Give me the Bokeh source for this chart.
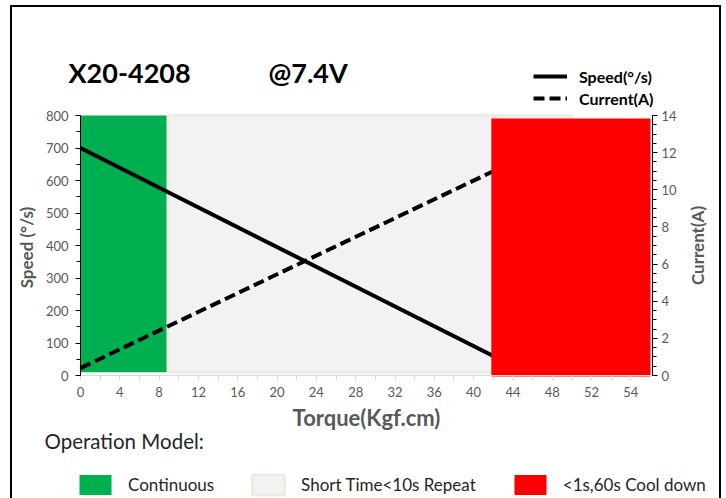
import math
from bokeh.plotting import figure
from bokeh.models import (Range1d, LinearAxis, FixedTicker, SingleIntervalTicker,
                          Label, Legend, LegendItem)
from bokeh.embed import file_html
from bokeh.resources import INLINE

# ---------------- data ----------------
title_model = "X20-4208"
title_voltage = "@7.4V"
section_title = "Operation Model:"
current_axis_title = "Current(A)"

torque = [0, 42]          # Kgf.cm
speed = [700, 60]         # deg/s
current = [0.4, 11.0]     # A

zone_names = ["Continuous", "Short Time<10s Repeat", "<1s,60s Cool down"]
zone_start = [0, 8.9, 41.8]
zone_end = [8.9, 50, 58]
zone_top = [800, 800, 791]
zone_bottom = [10, 10, -3]
zone_colors = ["#00B050", "#F2F2F2", "#FF0000"]

x_ticks = [0, 4, 8, 12, 16, 20, 24, 28, 32, 36, 40, 44, 48, 52, 56]
x_tick_labels = ["0", "4", "8", "12", "16", "20", "24", "28", "32", "36",
                 "40", "44", "48", "52", "54"]
x_minor_ticks = [2, 6, 10, 14, 18, 22, 26, 30, 34, 38, 42, 46, 50, 54]

X_MAX = 58.2
SPEED_MAX = 800
CURRENT_MAX = 14

# ---------------- layout (pixels) ----------------
W, H = 726, 498
PL, PR, PT, PB = 80, 652, 115, 375     # plot-area box inside the canvas
FONT = "Lato"
GRAY = "#595959"

kx = (PR - PL) / X_MAX
ks = (PB - PT) / SPEED_MAX
kc = (PB - PT) / CURRENT_MAX

p = figure(width=W, height=H, output_backend="svg", toolbar_location=None,
           x_range=Range1d(-PL / kx, X_MAX + (W - PR) / kx),
           y_range=Range1d(-(H - PB) / ks, SPEED_MAX + PT / ks),
           min_border=0, x_axis_location=None, y_axis_location=None)
p.extra_y_ranges = {"current": Range1d(-(H - PB) / kc, CURRENT_MAX + PT / kc)}
p.grid.visible = False
p.outline_line_color = None
p.border_fill_color = None
p.background_fill_color = None
p.styles = {
    "background": ("linear-gradient(#000,#000) 10px 5px/2px 100% no-repeat, "
                   "linear-gradient(#000,#000) 719px 5px/2px 100% no-repeat, "
                   "linear-gradient(#000,#000) 10px 5px/711px 2px no-repeat"),
}

# zones
zone_r = []
for i in range(2):
    r = p.quad(left=[zone_start[i]], right=[zone_end[i]], top=[zone_top[i]],
               bottom=[zone_bottom[i]], fill_color=zone_colors[i],
               line_color="#EEECE1" if i == 1 else None,
               line_width=3 if i == 1 else 1)
    zone_r.append(r)

speed_r = p.line(torque, speed, line_color="black", line_width=4)
curr_r = p.line(torque, current, y_range_name="current", line_color="black",
                line_width=4, line_dash="11 5")

r = p.quad(left=[zone_start[2]], right=[zone_end[2]], top=[zone_top[2]],
           bottom=[zone_bottom[2]], fill_color=zone_colors[2], line_color=None)
zone_r.append(r)

# ---------------- axes ----------------
xa = LinearAxis(fixed_location=0, bounds=(0, X_MAX),
                ticker=FixedTicker(ticks=x_ticks, minor_ticks=x_minor_ticks))
xa.major_label_overrides = {t: l for t, l in zip(x_ticks, x_tick_labels)}
xa.axis_line_color = "#D9D9D9"
xa.major_tick_line_color = "#D9D9D9"
xa.minor_tick_line_color = "#D9D9D9"
xa.major_tick_in = 0
xa.major_tick_out = 5
xa.minor_tick_in = 0
xa.minor_tick_out = 5
xa.major_label_standoff = 6
xa.major_label_text_color = GRAY
xa.major_label_text_font = FONT
xa.major_label_text_font_size = "13px"
xa.axis_label = "Torque(Kgf.cm)"
xa.axis_label_text_font = FONT
xa.axis_label_text_font_size = "22px"
xa.axis_label_text_font_style = "bold"
xa.axis_label_text_color = GRAY
xa.axis_label_standoff = 4
p.add_layout(xa, "below")

ya = LinearAxis(fixed_location=0, bounds=(0, SPEED_MAX),
                ticker=SingleIntervalTicker(interval=100, num_minor_ticks=2))
ya.axis_line_color = "black"
ya.major_tick_line_color = "black"
ya.minor_tick_line_color = "black"
ya.major_tick_in = 0
ya.major_tick_out = 5
ya.minor_tick_in = 0
ya.minor_tick_out = 4
ya.major_label_standoff = 7
ya.major_label_text_color = GRAY
ya.major_label_text_font = FONT
ya.major_label_text_font_size = "13px"
ya.axis_label = "Speed  (°/s)"
ya.axis_label_text_font = FONT
ya.axis_label_text_font_size = "17px"
ya.axis_label_text_font_style = "bold"
ya.axis_label_text_color = GRAY
ya.axis_label_standoff = 6
p.add_layout(ya, "left")

ra = LinearAxis(y_range_name="current", fixed_location=X_MAX,
                bounds=(0, CURRENT_MAX),
                ticker=SingleIntervalTicker(interval=2, num_minor_ticks=4))
ra.axis_line_color = "black"
ra.major_tick_line_color = "black"
ra.minor_tick_line_color = "black"
ra.major_tick_in = 0
ra.major_tick_out = 5
ra.minor_tick_in = 0
ra.minor_tick_out = 4
ra.major_label_standoff = 4
ra.major_label_text_color = GRAY
ra.major_label_text_font = FONT
ra.major_label_text_font_size = "13px"
p.add_layout(ra, "right")

# right-axis title, read bottom-to-top and centred on the axis
p.add_layout(Label(x=697, y=H - (PT + PB) / 2, x_units="screen", y_units="screen",
                   text=current_axis_title, angle=math.pi / 2,
                   text_font=FONT, text_font_size="17px", text_font_style="bold",
                   text_color=GRAY, text_align="center", text_baseline="middle"))

# ---------------- titles ----------------
for txt, xx in [(title_model, 68), (title_voltage, 268)]:
    p.add_layout(Label(x=xx, y=H - 72, x_units="screen", y_units="screen", text=txt,
                       text_font=FONT, text_font_size="27px",
                       text_font_style="bold", text_baseline="middle",
                       text_color="black"))

p.add_layout(Label(x=44, y=H - 440, x_units="screen", y_units="screen",
                   text=section_title, text_font=FONT, text_font_size="20.5px",
                   text_baseline="middle", text_color="#262626"))

# ---------------- legends ----------------
line_legend = Legend(
    items=[LegendItem(label="Speed(°/s)", renderers=[speed_r]),
           LegendItem(label="Current(A)", renderers=[curr_r])],
    location=(533, H - 108), orientation="vertical", padding=0, margin=0,
    spacing=2, glyph_width=34, glyph_height=20, label_height=20,
    label_standoff=12, label_text_font=FONT, label_text_font_size="16px",
    label_text_font_style="bold", label_text_color="black",
    background_fill_alpha=0, border_line_alpha=0)
p.add_layout(line_legend)

zone_legend = Legend(
    items=[LegendItem(label=n, renderers=[rr]) for n, rr in zip(zone_names, zone_r)],
    location=(75, H - 497), orientation="horizontal", padding=0, margin=0,
    spacing=34, glyph_width=40, glyph_height=25, label_height=25,
    label_standoff=13, label_text_font=FONT, label_text_font_size="17px",
    label_text_color="#262626", background_fill_alpha=0, border_line_alpha=0)
p.add_layout(zone_legend)

open("out.html", "w").write(file_html(p, INLINE))
